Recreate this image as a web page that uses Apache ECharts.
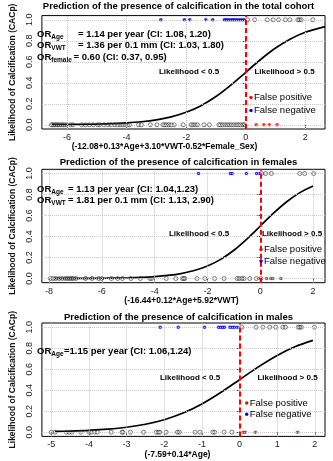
<!DOCTYPE html>
<html>
<head>
<meta charset="utf-8">
<script src="https://cdn.jsdelivr.net/npm/echarts@6/dist/echarts.min.js"></script>
<style>
html, body { margin: 0; padding: 0; background: #fff; }
#chart { width: 333px; height: 461px; }
</style>
</head>
<body>
<div id="chart"></div>
<script>
// ---- values ----
// total cohort
var totalCurveX = [-6.5, -6, -5.5, -5, -4.5, -4, -3.5, -3, -2.5, -2, -1.5, -1, -0.5, 0, 0.5, 1, 1.5, 2, 2.66];
var totalCurveY = [0.0015, 0.0025, 0.004, 0.007, 0.011, 0.018, 0.029, 0.047, 0.076, 0.119, 0.182, 0.269, 0.378, 0.5, 0.622, 0.731, 0.818, 0.881, 0.935];
var totalTopOpen = [0.06, 0.3, 0.72, 0.92, 1.1, 1.33, 1.48, 1.75, 1.8, 1.86, 2.25];
var totalTopBlue = [-2.85, -2.06, -1.88, -1.34, -1.11, -0.72, -0.66, -0.6, -0.53, -0.46, -0.4, -0.33, -0.26, -0.19, -0.12, -0.05];
var totalBottomOpen = [-6.52, -6.47, -6.42, -6.37, -6.32, -6.27, -6.21, -6.15, -6.1, -6.03, -5.88, -5.8,
  -5.5, -5.38, -5.25, -5.12, -4.97, -4.9, -4.75, -4.62, -4.52, -4.4, -4.3, -4.22, -4.14, -4.05, -3.97, -3.9, -3.6, -3.5,
  -3.2, -2.98, -2.78, -2.72, -2.66, -2.58, -2.5, -2.4, -2.1, -1.83, -1.77, -1.7, -1.62, -1.4, -1.22,
  -0.9, -0.85, -0.78, -0.7, -0.62, -0.55, -0.48, -0.4, -0.32, -0.25, -0.18, -0.1, -0.05];
var totalBottomRed = [0.35, 0.61, 0.79, 1.05];

// females
var femCurveX = [-7.8, -7, -6, -5, -4.5, -4, -3.5, -3, -2.5, -2, -1.5, -1, -0.5, 0, 0.5, 1, 1.5, 2];
var femCurveY = [0.0004, 0.0009, 0.0025, 0.007, 0.011, 0.018, 0.029, 0.047, 0.076, 0.119, 0.182, 0.269, 0.378, 0.5, 0.622, 0.731, 0.818, 0.881];
var femTopBlue = [-2.34, -1.14, -1.07, -0.53, -0.14, -0.02];
var femTopOpen = [0.05, 0.2, 0.42, 1.5, 1.68, 2.02];
var femBottomOpen = [-7.95, -7.85, -7.75, -7.62, -7.5, -7.38, -7.3, -7.22, -7.15, -7.08, -6.98, -6.62, -6.37, -6.12, -6.0,
  -5.64, -5.4, -5.22, -4.9, -4.54, -4.18, -4.12, -3.56, -3.2, -2.95, -2.9, -2.86, -2.4, -2.1, -1.73, -1.37,
  -0.88, -0.8, -0.7, -0.62, -0.4, -0.15, 0.02];
var femBottomRed = [0.24, 0.4, 0.47, 0.78];

// males
var maleCurveX = [-4.9, -4.5, -4, -3.5, -3, -2.5, -2, -1.5, -1, -0.5, 0, 0.5, 1, 1.5, 1.95];
var maleCurveY = [0.007, 0.011, 0.018, 0.029, 0.047, 0.076, 0.119, 0.182, 0.269, 0.378, 0.5, 0.622, 0.731, 0.818, 0.875];
var maleTopBlue = [-2.11, -1.63, -0.93, -0.56, -0.5, -0.45, -0.4, -0.26, -0.2, -0.14, -0.06];
var maleTopOpen = [0.06, 0.44, 0.62, 0.8, 0.96, 1.15, 1.22, 1.56, 1.6, 1.64, 1.99];
var maleBottomOpen = [-5.0, -4.9, -4.6, -4.53, -4.45, -4.22, -4.0, -3.95, -3.85, -3.78, -3.41, -3.12, -3.1, -2.9, -2.55,
  -2.21, -2.16, -2.12, -1.95, -1.65, -1.6, -1.18, -1.05, -0.71, -0.66, -0.41, -0.2];
var maleBottomRed = [0.1, 0.15, 0.42, 1.54];

// axis ticks
var xTicks1 = [-6, -4, -2, 0, 2];
var xTicks2 = [-8, -6, -4, -2, 0, 2];
var xTicks3 = [-5, -4, -3, -2, -1, 0, 1, 2];
var yTicks = [0, 0.2, 0.4, 0.6, 0.8, 1.0];

var FONT = 'Liberation Sans, Arial, sans-serif';
var chart = echarts.init(document.getElementById('chart'));

var panels = [
  { top: 15.6, xmin: -6.84, xmax: 2.66, ticks: xTicks1, curveX: totalCurveX, curveY: totalCurveY,
    topOpen: totalTopOpen, topBlue: totalTopBlue, botOpen: totalBottomOpen, botRed: totalBottomRed },
  { top: 169.3, xmin: -8.27, xmax: 2.45, ticks: xTicks2, curveX: femCurveX, curveY: femCurveY,
    topOpen: femTopOpen, topBlue: femTopBlue, botOpen: femBottomOpen, botRed: femBottomRed },
  { top: 323, xmin: -5.25, xmax: 2.27, ticks: xTicks3, curveX: maleCurveX, curveY: maleCurveY,
    topOpen: maleTopOpen, topBlue: maleTopBlue, botOpen: maleBottomOpen, botRed: maleBottomRed }
];

function pts(xs, y) { return xs.map(function (v) { return [v, y]; }); }
function zip(xs, ys) { return xs.map(function (v, i) { return [v, ys[i]]; }); }

var grids = [], xAxes = [], yAxes = [], series = [];
panels.forEach(function (p, i) {
  grids.push({ left: 32, top: p.top, width: 293, height: 113.4, show: true,
    borderColor: '#000', borderWidth: 1, backgroundColor: 'transparent' });
  xAxes.push({ type: 'value', gridIndex: i, min: p.xmin, max: p.xmax,
    axisLine: { show: false },
    axisTick: { show: true, customValues: p.ticks, length: 3, lineStyle: { color: '#333' } },
    axisLabel: { customValues: p.ticks, fontSize: 9, color: '#222', margin: 4, fontFamily: FONT },
    splitLine: { show: false } });
  yAxes.push({ type: 'value', gridIndex: i, min: -0.04, max: 1.04,
    axisLine: { show: false },
    axisTick: { show: true, customValues: yTicks, length: 3, lineStyle: { color: '#333' } },
    axisLabel: { customValues: yTicks, rotate: 90, fontSize: 9, color: '#222', margin: 8, fontFamily: FONT,
      formatter: function (v) { return v.toFixed(1); } },
    splitLine: { show: false },
    name: 'Likelihood of Calcification (CACp)', nameLocation: 'middle', nameRotate: 90, nameGap: 24,
    nameTextStyle: { fontSize: 8.5, fontWeight: 'bold', color: '#111', fontFamily: FONT } });

  // dotted grid
  var gl = p.ticks.map(function (v) { return { xAxis: v }; })
    .concat(yTicks.map(function (v) { return { yAxis: v }; }));
  series.push({ type: 'scatter', xAxisIndex: i, yAxisIndex: i, data: [], z: 1, silent: true,
    markLine: { silent: true, symbol: ['none', 'none'], label: { show: false },
      lineStyle: { type: 'dotted', color: '#c4c4c4', width: 1 }, data: gl, animation: false } });

  series.push({ type: 'line', xAxisIndex: i, yAxisIndex: i, data: zip(p.curveX, p.curveY),
    smooth: 0.3, showSymbol: false, z: 3, lineStyle: { color: '#000', width: 1.7 } });

  var openStyle = { color: 'rgba(0,0,0,0)', borderColor: '#333', borderWidth: 0.8 };
  series.push({ type: 'scatter', xAxisIndex: i, yAxisIndex: i, data: pts(p.topOpen, 1).concat(pts(p.botOpen, 0)),
    symbolSize: 4, itemStyle: openStyle, z: 4 });
  series.push({ type: 'scatter', xAxisIndex: i, yAxisIndex: i, data: pts(p.topBlue, 1),
    symbolSize: 3.6, itemStyle: { color: '#0000ff' }, z: 4 });
  series.push({ type: 'scatter', xAxisIndex: i, yAxisIndex: i, data: pts(p.botRed, 0),
    symbolSize: 3.6, itemStyle: { color: '#ff0000' }, z: 4,
    markLine: { silent: true, symbol: ['none', 'none'], label: { show: false },
      lineStyle: { type: [5, 3], color: '#ff0000', width: 2 }, data: [{ xAxis: 0 }], animation: false } });
});

// ---- text annotations ----
function txt(x, y, s, size, bold, align) {
  return { type: 'text', x: x, y: y, z: 10, silent: true,
    style: { text: s, font: (bold ? 'bold ' : '') + size + 'px ' + FONT, fill: '#000',
      align: align || 'left', textAlign: align || 'left', verticalAlign: 'middle', textVerticalAlign: 'middle' } };
}
function dot(x, y, c) {
  return { type: 'circle', z: 10, silent: true, shape: { cx: x, cy: y, r: 1.7 }, style: { fill: c } };
}
function orLine(x, y, sub, rest, restX) {
  return [txt(x, y, 'OR', 9.5, true), txt(x + 14.3, y + 2.8, sub, 6.5, true), txt(restX, y, rest, 9.5, true)];
}

var g = [];
// titles
g.push(txt(178.5, 6.7, 'Prediction of the presence of calcification in the total cohort', 9.5, true, 'center'));
g.push(txt(178.5, 162.3, 'Prediction of the presence of calcification in females', 9.5, true, 'center'));
g.push(txt(178.5, 317.3, 'Prediction of the presence of calcification in males', 9.5, true, 'center'));
// x names
g.push(txt(164.5, 147, '(-12.08+0.13*Age+3.10*VWT-0.52*Female_Sex)', 8.5, true, 'center'));
g.push(txt(181.5, 300.7, '(-16.44+0.12*Age+5.92*VWT)', 8.5, true, 'center'));
g.push(txt(177.5, 454.4, '(-7.59+0.14*Age)', 8.5, true, 'center'));
// odds ratios
g = g.concat(orLine(37, 34.3, 'Age', '= 1.14 per year (CI: 1.08, 1.20)', 78));
g = g.concat(orLine(37, 45.8, 'VWT', '= 1.36 per 0.1 mm (CI: 1.03, 1.80)', 78));
g = g.concat(orLine(37, 57.3, 'female', '= 0.60 (CI: 0.37, 0.95)', 73.5));
g = g.concat(orLine(37, 189.3, 'Age', '= 1.13 per year (CI: 1.04,1.23)', 68));
g = g.concat(orLine(37, 200.5, 'VWT', '= 1.81 per 0.1 mm (CI: 1.13, 2.90)', 68));
g = g.concat(orLine(37, 351.7, 'Age', '=1.15 per year (CI: 1.06,1.24)', 64));
// likelihood regions
g.push(txt(189, 71.7, 'Likelihood < 0.5', 8, true, 'center'));
g.push(txt(284.5, 71.7, 'Likelihood > 0.5', 8, true, 'center'));
g.push(txt(199, 233.3, 'Likelihood < 0.5', 8, true, 'center'));
g.push(txt(292, 233.3, 'Likelihood > 0.5', 8, true, 'center'));
g.push(txt(190, 377.7, 'Likelihood < 0.5', 8, true, 'center'));
g.push(txt(287.5, 377.7, 'Likelihood > 0.5', 8, true, 'center'));
// legends
[[251, 97.5, 110.5], [261, 249.5, 261], [246.7, 403, 414.3]].forEach(function (l) {
  g.push(dot(l[0], l[1], '#ff0000'));
  g.push(txt(l[0] + 3, l[1], 'False positive', 9.5, false));
  g.push(dot(l[0], l[2], '#0000ff'));
  g.push(txt(l[0] + 3, l[2], 'False negative', 9.5, false));
});

chart.setOption({
  animation: false,
  grid: grids,
  xAxis: xAxes,
  yAxis: yAxes,
  series: series,
  graphic: { elements: g }
});
</script>
</body>
</html>
